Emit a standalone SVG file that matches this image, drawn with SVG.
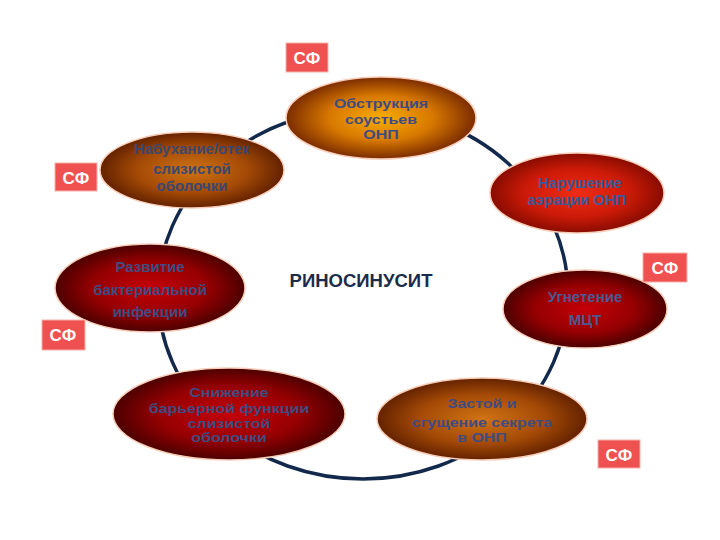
<svg xmlns="http://www.w3.org/2000/svg" width="720" height="540" viewBox="0 0 720 540">
<defs>
<radialGradient id="gOrange" cx="50%" cy="50%" r="50%">
<stop offset="0" stop-color="#f8ac00"/>
<stop offset="0.55" stop-color="#d77800"/>
<stop offset="1" stop-color="#7c2c00"/>
</radialGradient>
<radialGradient id="gBrown" cx="50%" cy="50%" r="50%">
<stop offset="0" stop-color="#d07414"/>
<stop offset="0.6" stop-color="#a44a06"/>
<stop offset="1" stop-color="#642200"/>
</radialGradient>
<radialGradient id="gRed" cx="50%" cy="50%" r="50%">
<stop offset="0" stop-color="#f02c14"/>
<stop offset="0.6" stop-color="#cc1a08"/>
<stop offset="1" stop-color="#880c00"/>
</radialGradient>
<radialGradient id="gDark" cx="50%" cy="50%" r="50%">
<stop offset="0" stop-color="#c40006"/>
<stop offset="0.6" stop-color="#960002"/>
<stop offset="1" stop-color="#4c0000"/>
</radialGradient>
</defs>
<style>
.node ellipse{stroke:#f7cdb8;stroke-width:1.5}
.lbl{font-family:"Liberation Sans",Arial,sans-serif;font-weight:bold;font-size:15px;fill:#3f4c82;text-anchor:middle}
.sq .lbl{font-size:16px}
.sf rect{fill:#ef5050;stroke:#f6b0a8;stroke-width:1}
.sf text{font-family:"Liberation Sans",Arial,sans-serif;font-weight:bold;font-size:17px;fill:#ffffff;text-anchor:middle}
.title{font-family:"Liberation Sans",Arial,sans-serif;font-weight:bold;font-size:18.5px;fill:#1b2b4b;text-anchor:middle}
</style>
<rect width="720" height="540" fill="#ffffff"/>
<g id="connectors">
<ellipse cx="363" cy="294" rx="205" ry="185" fill="none" stroke="#13294b" stroke-width="3.5"/>
</g>
<g id="n-obstr" class="node">
<ellipse cx="381" cy="118" rx="95" ry="41" fill="url(#gOrange)"/>
<g class="sq" transform="translate(381,118) scale(1,0.78)">
<text class="lbl" x="0" y="-12.5">Обструкция</text>
<text class="lbl" x="0" y="7.5">соустьев</text>
<text class="lbl" x="0" y="26.5">ОНП</text>
</g>
</g>
<g id="n-otek" class="node">
<ellipse cx="192" cy="170" rx="92" ry="38" fill="url(#gBrown)"/>
<text class="lbl" x="192" y="154" style="fill:#3a4870">Набухание/отек</text>
<text class="lbl" x="192" y="174" style="fill:#3a4870">слизистой</text>
<text class="lbl" x="192" y="191" style="fill:#3a4870">оболочки</text>
</g>
<g id="n-aer" class="node">
<ellipse cx="577" cy="193" rx="87" ry="40" fill="url(#gRed)"/>
<text class="lbl" x="580" y="188" style="fill:#3a5a9a">Нарушение</text>
<text class="lbl" x="577" y="205" style="fill:#3a5a9a">аэрации  ОНП</text>
</g>
<g id="n-infek" class="node">
<ellipse cx="150" cy="288" rx="95" ry="44" fill="url(#gDark)"/>
<text class="lbl" x="150" y="272">Развитие</text>
<text class="lbl" x="150" y="295">бактериальной</text>
<text class="lbl" x="150" y="317">инфекции</text>
</g>
<g id="n-mct" class="node">
<ellipse cx="585" cy="309" rx="82" ry="39" fill="url(#gDark)"/>
<text class="lbl" x="585" y="302" style="fill:#4a5a90">Угнетение</text>
<text class="lbl" x="585" y="325" style="fill:#4a5a90">МЦТ</text>
</g>
<g id="n-barrier" class="node">
<ellipse cx="229" cy="414" rx="116" ry="46" fill="url(#gDark)"/>
<g class="sq" transform="translate(229,414) scale(1,0.78)">
<text class="lbl" x="0" y="-21.5">Снижение</text>
<text class="lbl" x="0" y="-1.5">барьерной функции</text>
<text class="lbl" x="0" y="17.5">слизистой</text>
<text class="lbl" x="0" y="36.5">оболочки</text>
</g>
</g>
<g id="n-zastoy" class="node">
<ellipse cx="482" cy="419" rx="105" ry="41" fill="url(#gBrown)"/>
<g class="sq" transform="translate(482,419) scale(1,0.78)">
<text class="lbl" x="0" y="-13.5">Застой и</text>
<text class="lbl" x="0" y="10">сгущение секрета</text>
<text class="lbl" x="0" y="29">в ОНП</text>
</g>
</g>
<g id="n-center">
<text class="title" x="361" y="287">РИНОСИНУСИТ</text>
</g>
<g id="sf-top" class="sf"><rect x="286" y="43" width="42" height="29"/><text x="307" y="64">СФ</text></g>
<g id="sf-left" class="sf"><rect x="55" y="163" width="42" height="28"/><text x="76" y="184">СФ</text></g>
<g id="sf-left2" class="sf"><rect x="42" y="320" width="43" height="30"/><text x="63" y="341">СФ</text></g>
<g id="sf-right" class="sf"><rect x="643" y="253" width="44" height="29"/><text x="665" y="274">СФ</text></g>
<g id="sf-br" class="sf"><rect x="598" y="440" width="42" height="28"/><text x="619" y="461">СФ</text></g>
</svg>
